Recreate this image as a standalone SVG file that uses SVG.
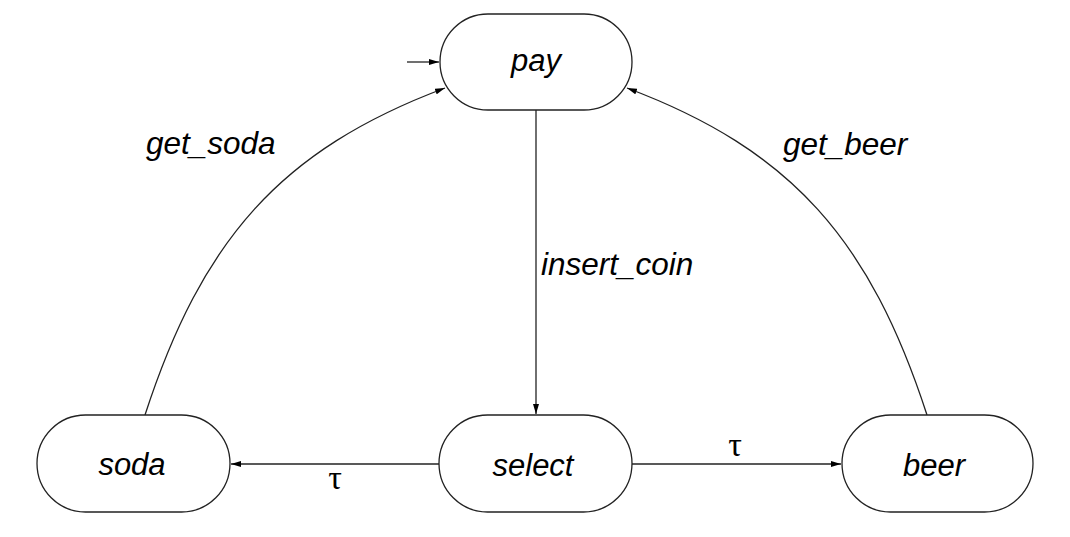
<svg xmlns="http://www.w3.org/2000/svg" width="1070" height="537" viewBox="0 0 1070 537">
<style>
.node{fill:#fff;stroke:#222;stroke-width:1.3}
.lbl{font-family:"Liberation Sans",Arial,sans-serif;font-style:italic;font-size:31px;fill:#000}
.elbl{font-family:"Liberation Sans",Arial,sans-serif;font-style:italic;font-size:31.5px;fill:#000}
.tau{font-family:"Liberation Serif","Times New Roman",serif;font-size:34px;fill:#000}
.edge{fill:none;stroke:#222;stroke-width:1.3}
</style>
<defs>
<marker id="arr" viewBox="0 0 10 6" refX="10" refY="3" markerWidth="10" markerHeight="6" markerUnits="userSpaceOnUse" orient="auto">
<path d="M0,0 L10,3 L0,6 Z" fill="#000"/>
</marker>
</defs>
<rect width="1070" height="537" fill="#fff"/>
<g id="connectors">
<path class="edge" d="M407,62 L439,62" marker-end="url(#arr)"/>
<path class="edge" d="M536,110 L536,414" marker-end="url(#arr)"/>
<path class="edge" d="M439,464 L231,464" marker-end="url(#arr)"/>
<path class="edge" d="M632,464 L841,464" marker-end="url(#arr)"/>
<path class="edge" d="M145,415 C202,240 280,150 445,88" marker-end="url(#arr)"/>
<path class="edge" d="M927,415 C870,240 792,150 627,88" marker-end="url(#arr)"/>
<text class="elbl" x="146" y="154">get_soda</text>
<text class="elbl" x="783" y="155">get_beer</text>
<text class="elbl" x="541" y="275">insert_coin</text>
<text class="tau" x="335" y="489" text-anchor="middle">τ</text>
<text class="tau" x="735" y="456" text-anchor="middle">τ</text>
</g>
<g id="pay">
<rect class="node" x="440" y="14" width="192" height="96" rx="48" ry="48"/>
<text class="lbl" x="536" y="71" text-anchor="middle">pay</text>
</g>
<g id="soda">
<rect class="node" x="37" y="415" width="193" height="97" rx="48.5" ry="48.5"/>
<text class="lbl" x="132" y="475" text-anchor="middle">soda</text>
</g>
<g id="select">
<rect class="node" x="439" y="415" width="193" height="97" rx="48.5" ry="48.5"/>
<text class="lbl" x="533" y="476" text-anchor="middle">select</text>
</g>
<g id="beer">
<rect class="node" x="842" y="415" width="191" height="97" rx="48.5" ry="48.5"/>
<text class="lbl" x="934" y="476" text-anchor="middle">beer</text>
</g>
</svg>
